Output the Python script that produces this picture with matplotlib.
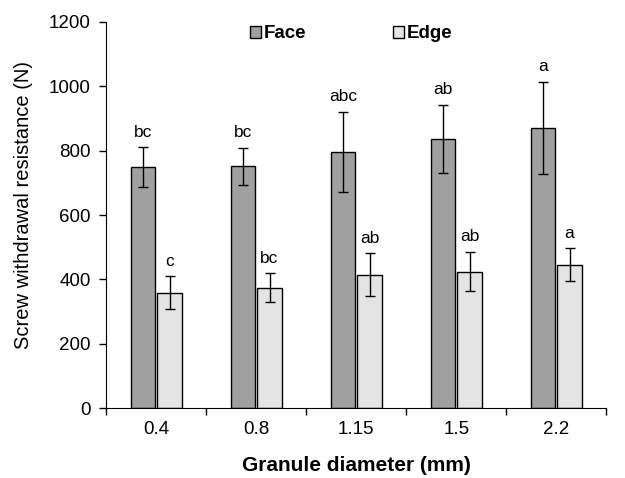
import numpy as np
import matplotlib.pyplot as plt

plt.rcParams['font.family'] = ['Liberation Sans', 'DejaVu Sans']

diameters = ['0.4', '0.8', '1.15', '1.5', '2.2']
face_mean = [748, 751, 796, 836, 870]
face_err = [62, 58, 125, 106, 143]
edge_mean = [358, 374, 414, 424, 446]
edge_err = [51, 45, 67, 61, 50]
face_letters = ['bc', 'bc', 'abc', 'ab', 'a']
edge_letters = ['c', 'bc', 'ab', 'ab', 'a']

fig = plt.figure(figsize=(6.25, 4.78), dpi=100)
ax = fig.add_axes([0.170, 0.1464, 0.800, 0.8076])

x = np.arange(len(diameters))
w = 0.243
off = 0.133

ax.bar(x - off, face_mean, w, color='#a0a0a0', edgecolor='black', linewidth=1, label='Face')
ax.bar(x + off, edge_mean, w, color='#e4e4e4', edgecolor='black', linewidth=1, label='Edge')
ax.errorbar(x - off, face_mean, yerr=face_err, fmt='none', ecolor='black', elinewidth=1, capsize=3.6, capthick=1)
ax.errorbar(x + off, edge_mean, yerr=edge_err, fmt='none', ecolor='black', elinewidth=1, capsize=3.6, capthick=1)

# significance letters above the error bars
for i in range(len(diameters)):
    ax.text(x[i] - off, face_mean[i] + face_err[i] + 24, face_letters[i], ha='center', va='bottom', fontsize=12.5)
    ax.text(x[i] + off, edge_mean[i] + edge_err[i] + 24, edge_letters[i], ha='center', va='bottom', fontsize=12.5)

ax.set_xlim(-0.5, len(diameters) - 0.5)
ax.set_ylim(0, 1200)
ax.set_yticks(range(0, 1201, 200))
ax.tick_params(axis='y', labelsize=13.5, direction='out', length=5, width=1, pad=6)

# category boundaries as major ticks, labels centered in between
ax.set_xticks(np.arange(-0.5, len(diameters), 1.0))
ax.set_xticklabels([])
ax.set_xticks(x, minor=True)
ax.set_xticklabels(diameters, minor=True, fontsize=13.5)
ax.tick_params(axis='x', which='major', direction='out', length=5, width=1)
ax.tick_params(axis='x', which='minor', length=0, pad=9)

for s in ['top', 'right']:
    ax.spines[s].set_visible(False)

ax.set_xlabel('Granule diameter (mm)', fontsize=15, fontweight='bold', labelpad=13)
ax.set_ylabel('Screw withdrawal resistance (N)', fontsize=14.5)
ax.yaxis.set_label_coords(-0.146, 0.526)

ax.legend(loc='upper center', bbox_to_anchor=(0.49, 1.035), ncol=2, frameon=False,
          prop={'weight': 'bold', 'size': 13.5}, handlelength=0.6, handleheight=0.6,
          handletextpad=0.15, columnspacing=4.6)

fig.savefig('out.png', dpi=100)
